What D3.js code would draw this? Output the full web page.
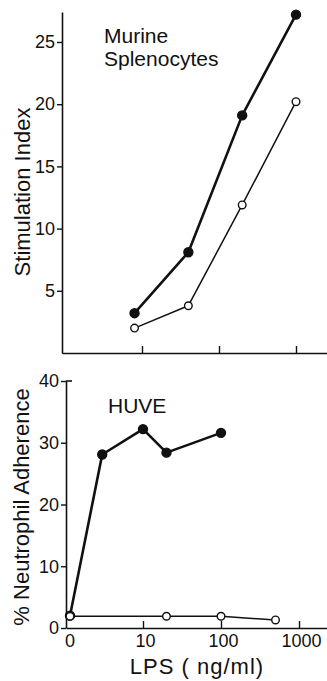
<!DOCTYPE html>
<html>
<head>
<meta charset="utf-8">
<script src="https://cdn.jsdelivr.net/npm/d3@7"></script>
<style>
  html, body { margin: 0; padding: 0; background: #fff; }
  svg text { font-family: "Liberation Sans", Arial, sans-serif; fill: #111; }
</style>
</head>
<body>
<svg id="chart" width="327" height="681"></svg>
<script>
// ── Data ─────────────────────────────────────────────
// Top panel: murine splenocytes, stimulation index vs LPS dose
var splenDose = [8, 40, 200, 1000];
var splenFilled = [3.2, 8.1, 19.1, 27.2];
var splenOpen = [2.0, 3.8, 11.9, 20.2];
var splenYTicks = [5, 10, 15, 20, 25];

// Bottom panel: HUVE, % neutrophil adherence vs LPS dose
var huveFilledDose = [0, 3, 10, 20, 100];
var huveFilled = [2.0, 28.1, 32.2, 28.4, 31.6];
var huveOpenDose = [0, 20, 100, 500];
var huveOpen = [1.9, 1.9, 1.9, 1.3];
var huveYTicks = [0, 10, 20, 30, 40];

var doseTicks = [10, 100, 1000];
var doseTickLabels = ["10", "100", "1000"];

(function () {
  var svg = d3.select("#chart");
  var ink = "#111";

  function zip(xs, ys) {
    return xs.map(function (x, i) { return { dose: x, v: ys[i] }; });
  }

  // ── Top panel ─────────────────────────────────────
  var xTop = d3.scaleLog().domain([10, 1000]).range([142, 296]);
  var xTopAxis = xTop.copy().domain([xTop.invert(62), xTop.invert(327)]).range([62, 327]);
  var yTop = d3.scaleLinear().domain([0, 25]).range([353, 42]);
  var yTopAxis = yTop.copy().domain([0, yTop.invert(12)]).range([353, 12]);

  var gTop = svg.append("g");

  gTop.append("g")
    .attr("transform", "translate(0,353)")
    .call(d3.axisBottom(xTopAxis).tickValues(doseTicks).tickFormat("").tickSize(-7).tickSizeOuter(0));

  gTop.append("g")
    .attr("transform", "translate(62,0)")
    .call(d3.axisLeft(yTopAxis).tickValues(splenYTicks).tickSize(5).tickSizeOuter(0).tickPadding(2));

  // ── Bottom panel ──────────────────────────────────
  var xBot = d3.scaleLog().domain([10, 1000]).range([143, 299]);
  var xBotAxis = xBot.copy().domain([xBot.invert(66), xBot.invert(327)]).range([66, 327]);
  var zeroX = 70;
  function bx(d) { return d === 0 ? zeroX : xBot(d); }
  var yBot = d3.scaleLinear().domain([0, 40]).range([628, 381]);

  var gBot = svg.append("g");

  var xb = gBot.append("g")
    .attr("transform", "translate(0,628)")
    .call(d3.axisBottom(xBotAxis).tickValues(doseTicks)
      .tickFormat(function (d, i) { return doseTickLabels[i]; })
      .tickSize(-7).tickSizeOuter(0).tickPadding(6));
  xb.selectAll(".tick text").attr("dx", 2);
  // "0" label at the origin
  xb.append("text")
    .attr("x", zeroX).attr("y", 6).attr("dy", "0.71em")
    .attr("text-anchor", "middle").attr("fill", ink)
    .text("0");

  gBot.append("g")
    .attr("transform", "translate(66,0)")
    .call(d3.axisLeft(yBot).tickValues(huveYTicks).tickSize(5).tickSizeOuter(0).tickPadding(2));
  // small cap on top of the axis
  gBot.append("line")
    .attr("x1", 66).attr("x2", 72)
    .attr("y1", yBot(40)).attr("y2", yBot(40))
    .attr("stroke", ink).attr("stroke-width", 1.6);

  svg.selectAll(".domain").attr("stroke", ink).attr("stroke-width", 1.6);
  svg.selectAll(".tick line").attr("stroke", ink).attr("stroke-width", 1.4);
  svg.selectAll(".tick text").attr("font-size", 18).attr("fill", ink);
  xb.selectAll("text").attr("font-size", 18);

  // ── Series ────────────────────────────────────────
  function drawSeries(g, pts, xf, yf, filled) {
    var line = d3.line()
      .x(function (d) { return xf(d.dose); })
      .y(function (d) { return yf(d.v); });
    g.append("path")
      .datum(pts)
      .attr("fill", "none")
      .attr("stroke", ink)
      .attr("stroke-width", filled ? 2.6 : 1.5)
      .attr("stroke-linejoin", "round")
      .attr("d", line);
    g.selectAll(null)
      .data(pts)
      .join("circle")
      .attr("cx", function (d) { return xf(d.dose); })
      .attr("cy", function (d) { return yf(d.v); })
      .attr("r", filled ? 4.5 : 3.8)
      .attr("fill", filled ? ink : "#fff")
      .attr("stroke", ink)
      .attr("stroke-width", 1.4);
  }

  drawSeries(gTop, zip(splenDose, splenOpen), xTop, yTop, false);
  drawSeries(gTop, zip(splenDose, splenFilled), xTop, yTop, true);
  drawSeries(gBot, zip(huveFilledDose, huveFilled), bx, yBot, true);
  drawSeries(gBot, zip(huveOpenDose, huveOpen), bx, yBot, false);

  // ── Labels ────────────────────────────────────────
  svg.append("text").attr("x", 104).attr("y", 43).attr("font-size", 21).text("Murine");
  svg.append("text").attr("x", 104).attr("y", 66).attr("font-size", 21).text("Splenocytes");
  svg.append("text").attr("x", 108).attr("y", 413).attr("font-size", 21).text("HUVE");

  svg.append("text")
    .attr("transform", "translate(30,192) rotate(-90)")
    .attr("text-anchor", "middle").attr("font-size", 22)
    .text("Stimulation Index");
  svg.append("text")
    .attr("transform", "translate(29,507) rotate(-90)")
    .attr("text-anchor", "middle").attr("font-size", 22)
    .text("% Neutrophil Adherence");
  svg.append("text")
    .attr("x", 197).attr("y", 674)
    .attr("text-anchor", "middle").attr("font-size", 22)
    .attr("letter-spacing", 1)
    .text("LPS ( ng/ml)");
})();
</script>
</body>
</html>
